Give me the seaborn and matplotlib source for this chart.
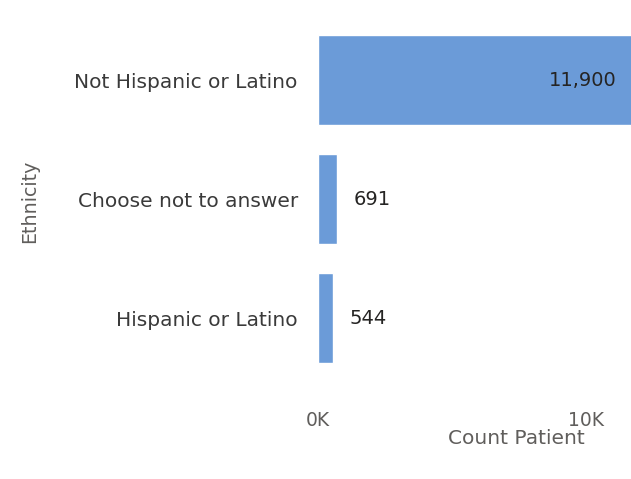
import matplotlib
matplotlib.use("Agg")
import matplotlib.pyplot as plt
import seaborn as sns
import pandas as pd

categories = ["Not Hispanic or Latino", "Choose not to answer", "Hispanic or Latino"]
values = [11900, 691, 544]
value_labels = ["11,900", "691", "544"]
xtick_vals = [0, 10000]
xtick_labels = ["0K", "10K"]

sns.set_theme(style="white")
plt.rcParams['font.family'] = ['DejaVu Sans']

df = pd.DataFrame({"Ethnicity": categories, "Count Patient": values})

W, H = 631, 479
fig = plt.figure(figsize=(W / 100, H / 100), dpi=100)
ax_left, ax_right = 318, 631
ax_top, ax_bottom = 20.5, 390
ax = fig.add_axes([ax_left / W, 1 - ax_bottom / H, (ax_right - ax_left) / W, (ax_bottom - ax_top) / H])

sns.barplot(data=df, x="Count Patient", y="Ethnicity", orient="h", color="#6B9BD8",
            width=0.755, saturation=1, ax=ax)

ax.set_xlim(0, 11680)
ax.set_ylim(2.605, -0.5)
for s in ax.spines.values():
    s.set_visible(False)
ax.grid(False)

ax.set_xticks(xtick_vals)
ax.set_xticklabels(xtick_labels, fontsize=13.5, color="#605E5C")
ax.tick_params(axis="x", length=0, pad=15)
ax.tick_params(axis="y", length=0, pad=14.5, labelsize=14.5, labelcolor="#3A3A3A")

ax.set_xlabel("Count Patient", fontsize=14.5, color="#605E5C")
ax.xaxis.set_label_coords((516 - ax_left) / (ax_right - ax_left), -(439 - ax_bottom) / (ax_bottom - ax_top))
ax.xaxis.label.set_va("center")
ax.set_ylabel("")
fig.text(30 / W, 1 - 201 / H, "Ethnicity", rotation=90, ha="center", va="center",
         fontsize=13.7, color="#605E5C")

for i, (v, lab) in enumerate(zip(values, value_labels)):
    if v > 5000:
        ax.annotate(lab, (ax_right, 0), xycoords=("figure pixels", "data"),
                    xytext=(-14, 0), textcoords="offset pixels", annotation_clip=False,
                    ha="right", va="center", fontsize=14, color="#252423")
    else:
        ax.annotate(lab, (v, i), xytext=(17, 0), textcoords="offset pixels",
                    annotation_clip=False,
                    ha="left", va="center", fontsize=14, color="#252423")

fig.savefig("out.png", dpi=100)
